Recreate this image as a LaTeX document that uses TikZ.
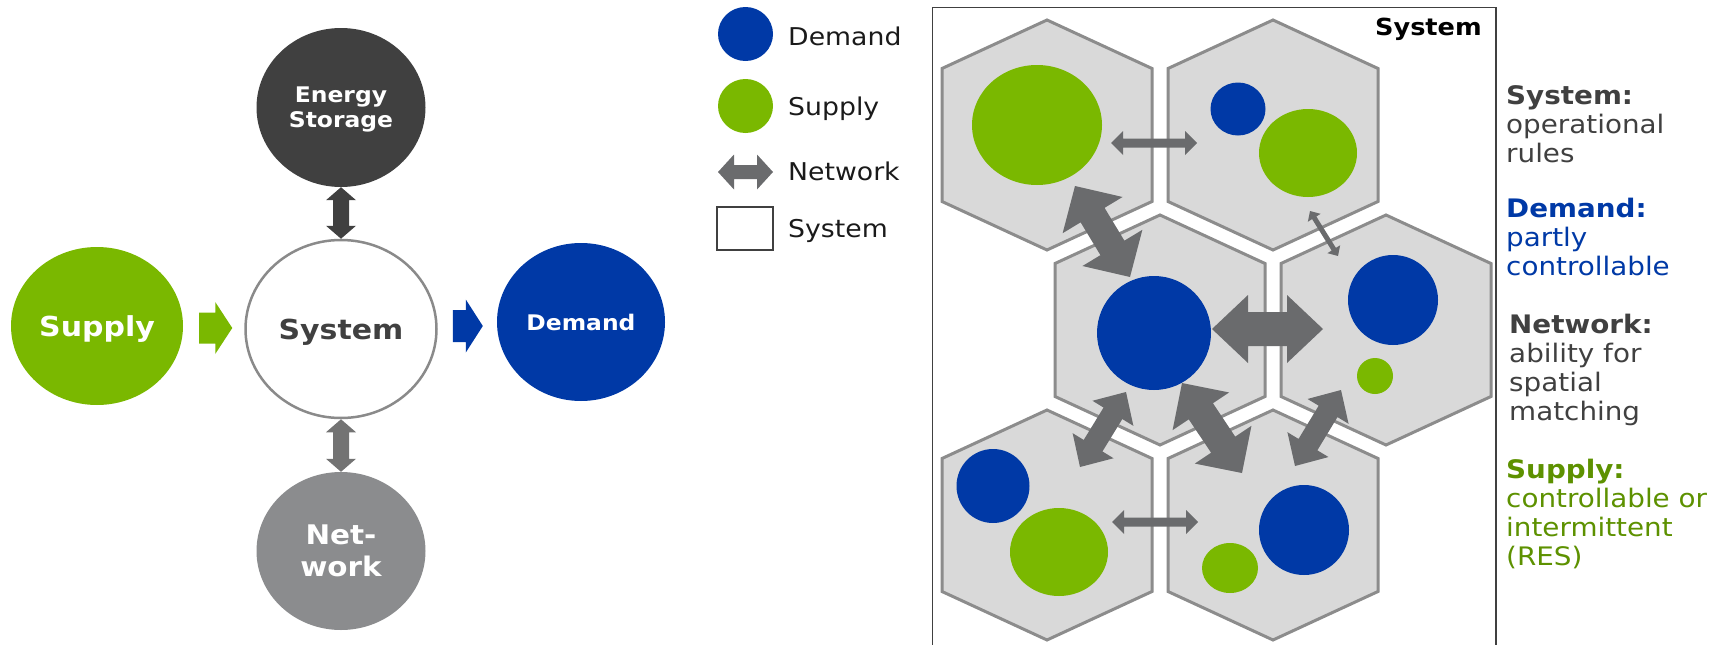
\documentclass[tikz,border=0pt]{standalone}
\usepackage{fontspec}
\setmainfont{DejaVu Sans}[FakeStretch=1.09]
\usetikzlibrary{calc,shapes.geometric}

\definecolor{eGreen}{HTML}{7AB800}
\definecolor{eBlue}{HTML}{0039A6}
\definecolor{eDark}{HTML}{404040}
\definecolor{eNet}{HTML}{8B8C8E}
\definecolor{eArrow}{HTML}{6A6B6D}
\definecolor{netArrow}{HTML}{737373}
\definecolor{hexFill}{HTML}{D9D9D9}
\definecolor{hexLine}{HTML}{8C8C8C}
\definecolor{ringLine}{HTML}{8A8A8A}
\definecolor{txtGreen}{HTML}{5D9100}
\definecolor{legBlack}{HTML}{1A1A1A}

% fat double-headed arrow with tips at #1 and #2
% #3 shaft half width, #4 head half width, #5 head length, #6 colour
\newcommand\twinarrow[6]{%
  \fill[#6] (#1)
    -- ($(#1)!#5!(#2)!#4!90:(#2)$)
    -- ($(#1)!#5!(#2)!#3!90:(#2)$)
    -- ($(#2)!#5!(#1)!#3!90:(#2)$)
    -- ($(#2)!#5!(#1)!#4!90:(#2)$)
    -- (#2)
    -- ($(#2)!#5!(#1)!#4!-90:(#2)$)
    -- ($(#2)!#5!(#1)!#3!-90:(#2)$)
    -- ($(#1)!#5!(#2)!#3!-90:(#2)$)
    -- ($(#1)!#5!(#2)!#4!-90:(#2)$)
    -- cycle;}

% block arrow from #1 (flat end) to its tip at #2
\newcommand\onearrow[6]{%
  \fill[#6] ($(#1)!#3!90:(#2)$)
    -- ($(#2)!#5!(#1)!#3!90:(#2)$)
    -- ($(#2)!#5!(#1)!#4!90:(#2)$)
    -- (#2)
    -- ($(#2)!#5!(#1)!#4!-90:(#2)$)
    -- ($(#2)!#5!(#1)!#3!-90:(#2)$)
    -- ($(#1)!#3!-90:(#2)$)
    -- cycle;}

\begin{document}
\begin{tikzpicture}[x=1pt,y=-1pt,
  bigbold/.style={font=\fontsize{27.5}{32}\selectfont\bfseries},
  midbold/.style={font=\fontsize{21.5}{25}\selectfont\bfseries},
  netbold/.style={font=\fontsize{27}{32}\selectfont\bfseries},
  bubble/.style={ellipse, inner sep=0pt, align=center, text depth=0pt},
  dot/.style={ellipse, inner sep=0pt},
  hexcell/.style={fill=hexFill, draw=hexLine, line width=3pt, line join=miter},
  legtext/.style={anchor=base west, inner sep=0pt, text=legBlack,
                  font=\fontsize{24.5}{29}\selectfont},
  note/.style={anchor=base west, inner sep=0pt, align=left,
               font=\fontsize{25.5}{29}\selectfont}
]
\useasboundingbox (0,0) rectangle (1725,645);

% ---------- energy system overview ----------
\node[bubble, bigbold, fill=eGreen, text=white,
      minimum width=172pt, minimum height=158pt] (sup) at (97,326) {Supply};
\node[bubble, bigbold, fill=white, draw=ringLine, line width=2.5pt, text=eDark,
      minimum width=191pt, minimum height=178pt] (sys) at (341,329) {System};
\node[bubble, midbold, fill=eBlue, text=white,
      minimum width=168pt, minimum height=158pt] (dem) at (581,322) {Demand};
\node[bubble, midbold, fill=eDark, text=white,
      minimum width=169pt, minimum height=159pt] (stor) at (341,107.5) {Energy\\Storage};
\node[bubble, netbold, fill=eNet, text=white,
      minimum width=169pt, minimum height=158pt] (net) at (341,551) {Net-\\work};

\coordinate (supA) at ($(sup.east)+(16,2)$);
\coordinate (supB) at ($(sys.west)+(-12,-1)$);
\coordinate (demA) at ($(sys.east)+(15,-3)$);
\coordinate (demB) at ($(dem.west)+(-14,4)$);
\onearrow{supA}{supB}{15.5pt}{26pt}{17pt}{eGreen}
\onearrow{demA}{demB}{16pt}{26.5pt}{17pt}{eBlue}
\twinarrow{stor.south}{sys.north}{8pt}{15pt}{13pt}{eDark}
\twinarrow{sys.south}{net.north}{8pt}{15pt}{13pt}{netArrow}

% ---------- legend ----------
\node[dot, fill=eBlue, minimum width=55pt, minimum height=54pt] (lgD) at (745.5,34) {};
\node[dot, fill=eGreen, minimum width=55pt, minimum height=54pt] (lgS) at (745.5,106) {};
\coordinate (lgNa) at (718,172);
\coordinate (lgNb) at (773,172);
\twinarrow{lgNa}{lgNb}{7pt}{17.5pt}{16pt}{eArrow}
\node[draw=eDark, line width=1.5pt, inner sep=0pt,
      minimum width=56pt, minimum height=43pt] (lgB) at (745,228.5) {};
\node[legtext] (lgDt) at (788,45.7) {Demand};
\node[legtext] (lgSt) at (788,115) {Supply};
\node[legtext] (lgNt) at (788,180) {Network};
\node[legtext] (lgBt) at (788,237) {System};

% ---------- system frame with honeycomb of regions ----------
\draw[eDark, line width=1.5pt] (932.5,665) -- (932.5,7.5) -- (1496,7.5) -- (1496,665);
\node[anchor=base east, inner sep=0pt, text=black,
      font=\fontsize{23.5}{28}\selectfont\bfseries] (sysTitle) at (1482,35) {System};

\foreach \n/\cx/\cy in {h1/1047/135, h2/1273/135, h3/1160/330,
                        h4/1386/330, h5/1047/525, h6/1273/525}{
  \coordinate (\n) at (\cx,\cy);
  \draw[hexcell] ($(\n)+(0,-115)$) -- ++(105,48.5) -- ++(0,133)
     -- ++(-105,48.5) -- ++(-105,-48.5) -- ++(0,-133) -- cycle;
}

% supply and demand inside the regions
\node[dot, fill=eGreen, minimum width=130pt, minimum height=120pt] (s1) at (1037,125) {};
\node[dot, fill=eBlue,  minimum width=55pt,  minimum height=53pt]  (d2) at (1238,109) {};
\node[dot, fill=eGreen, minimum width=98pt,  minimum height=88pt]  (s2) at (1308,153) {};
\node[dot, fill=eBlue,  minimum width=114pt, minimum height=114pt] (d3) at (1154,333) {};
\node[dot, fill=eBlue,  minimum width=90pt,  minimum height=90pt]  (d4) at (1393,300) {};
\node[dot, fill=eGreen, minimum width=36pt,  minimum height=36pt]  (s4) at (1375,376) {};
\node[dot, fill=eBlue,  minimum width=73pt,  minimum height=74pt]  (d5) at (993,486) {};
\node[dot, fill=eGreen, minimum width=98pt,  minimum height=88pt]  (s5) at (1059,552) {};
\node[dot, fill=eBlue,  minimum width=90pt,  minimum height=90pt]  (d6) at (1304,530) {};
\node[dot, fill=eGreen, minimum width=56pt,  minimum height=50pt]  (s6) at (1230,568) {};

% network links between the regions
\coordinate (k12a) at (1111,143);  \coordinate (k12b) at (1197,143);
\coordinate (k56a) at (1112,522);  \coordinate (k56b) at (1198,522);
\coordinate (k34a) at (1212,329);  \coordinate (k34b) at (1323,329);
\coordinate (k13a) at (1075,186);  \coordinate (k13b) at (1130,277);
\coordinate (k24a) at (1310,211);  \coordinate (k24b) at (1338,256);
\coordinate (k35a) at (1126,392);  \coordinate (k35b) at (1080,467);
\coordinate (k36a) at (1182,383);  \coordinate (k36b) at (1242,473);
\coordinate (k46a) at (1341,390);  \coordinate (k46b) at (1295,466);
\twinarrow{k12a}{k12b}{4.5pt}{12pt}{12pt}{eArrow}
\twinarrow{k56a}{k56b}{4.5pt}{12pt}{12pt}{eArrow}
\twinarrow{k34a}{k34b}{17pt}{34pt}{36pt}{eArrow}
\twinarrow{k13a}{k13b}{14pt}{35pt}{34pt}{eArrow}
\twinarrow{k24a}{k24b}{2.5pt}{7.5pt}{8pt}{eArrow}
\twinarrow{k35a}{k35b}{11pt}{24pt}{25pt}{eArrow}
\twinarrow{k36a}{k36b}{14.5pt}{34pt}{34pt}{eArrow}
\twinarrow{k46a}{k46b}{11pt}{24pt}{25pt}{eArrow}

% ---------- notes (anchored at the baseline of the last line) ----------
\node[note, text=eDark] (nSys) at (1506,162) {\textbf{System:}\\operational\\rules};
\node[note, text=eBlue] (nDem) at (1506,275.5) {\textbf{Demand:}\\partly\\controllable};
\node[note, text=eDark] (nNet) at (1509,420) {\textbf{Network:}\\ability for\\spatial\\matching};
\node[note, text=txtGreen] (nSup) at (1506,565) {\textbf{Supply:}\\controllable or\\intermittent\\(RES)};
\end{tikzpicture}
\end{document}
